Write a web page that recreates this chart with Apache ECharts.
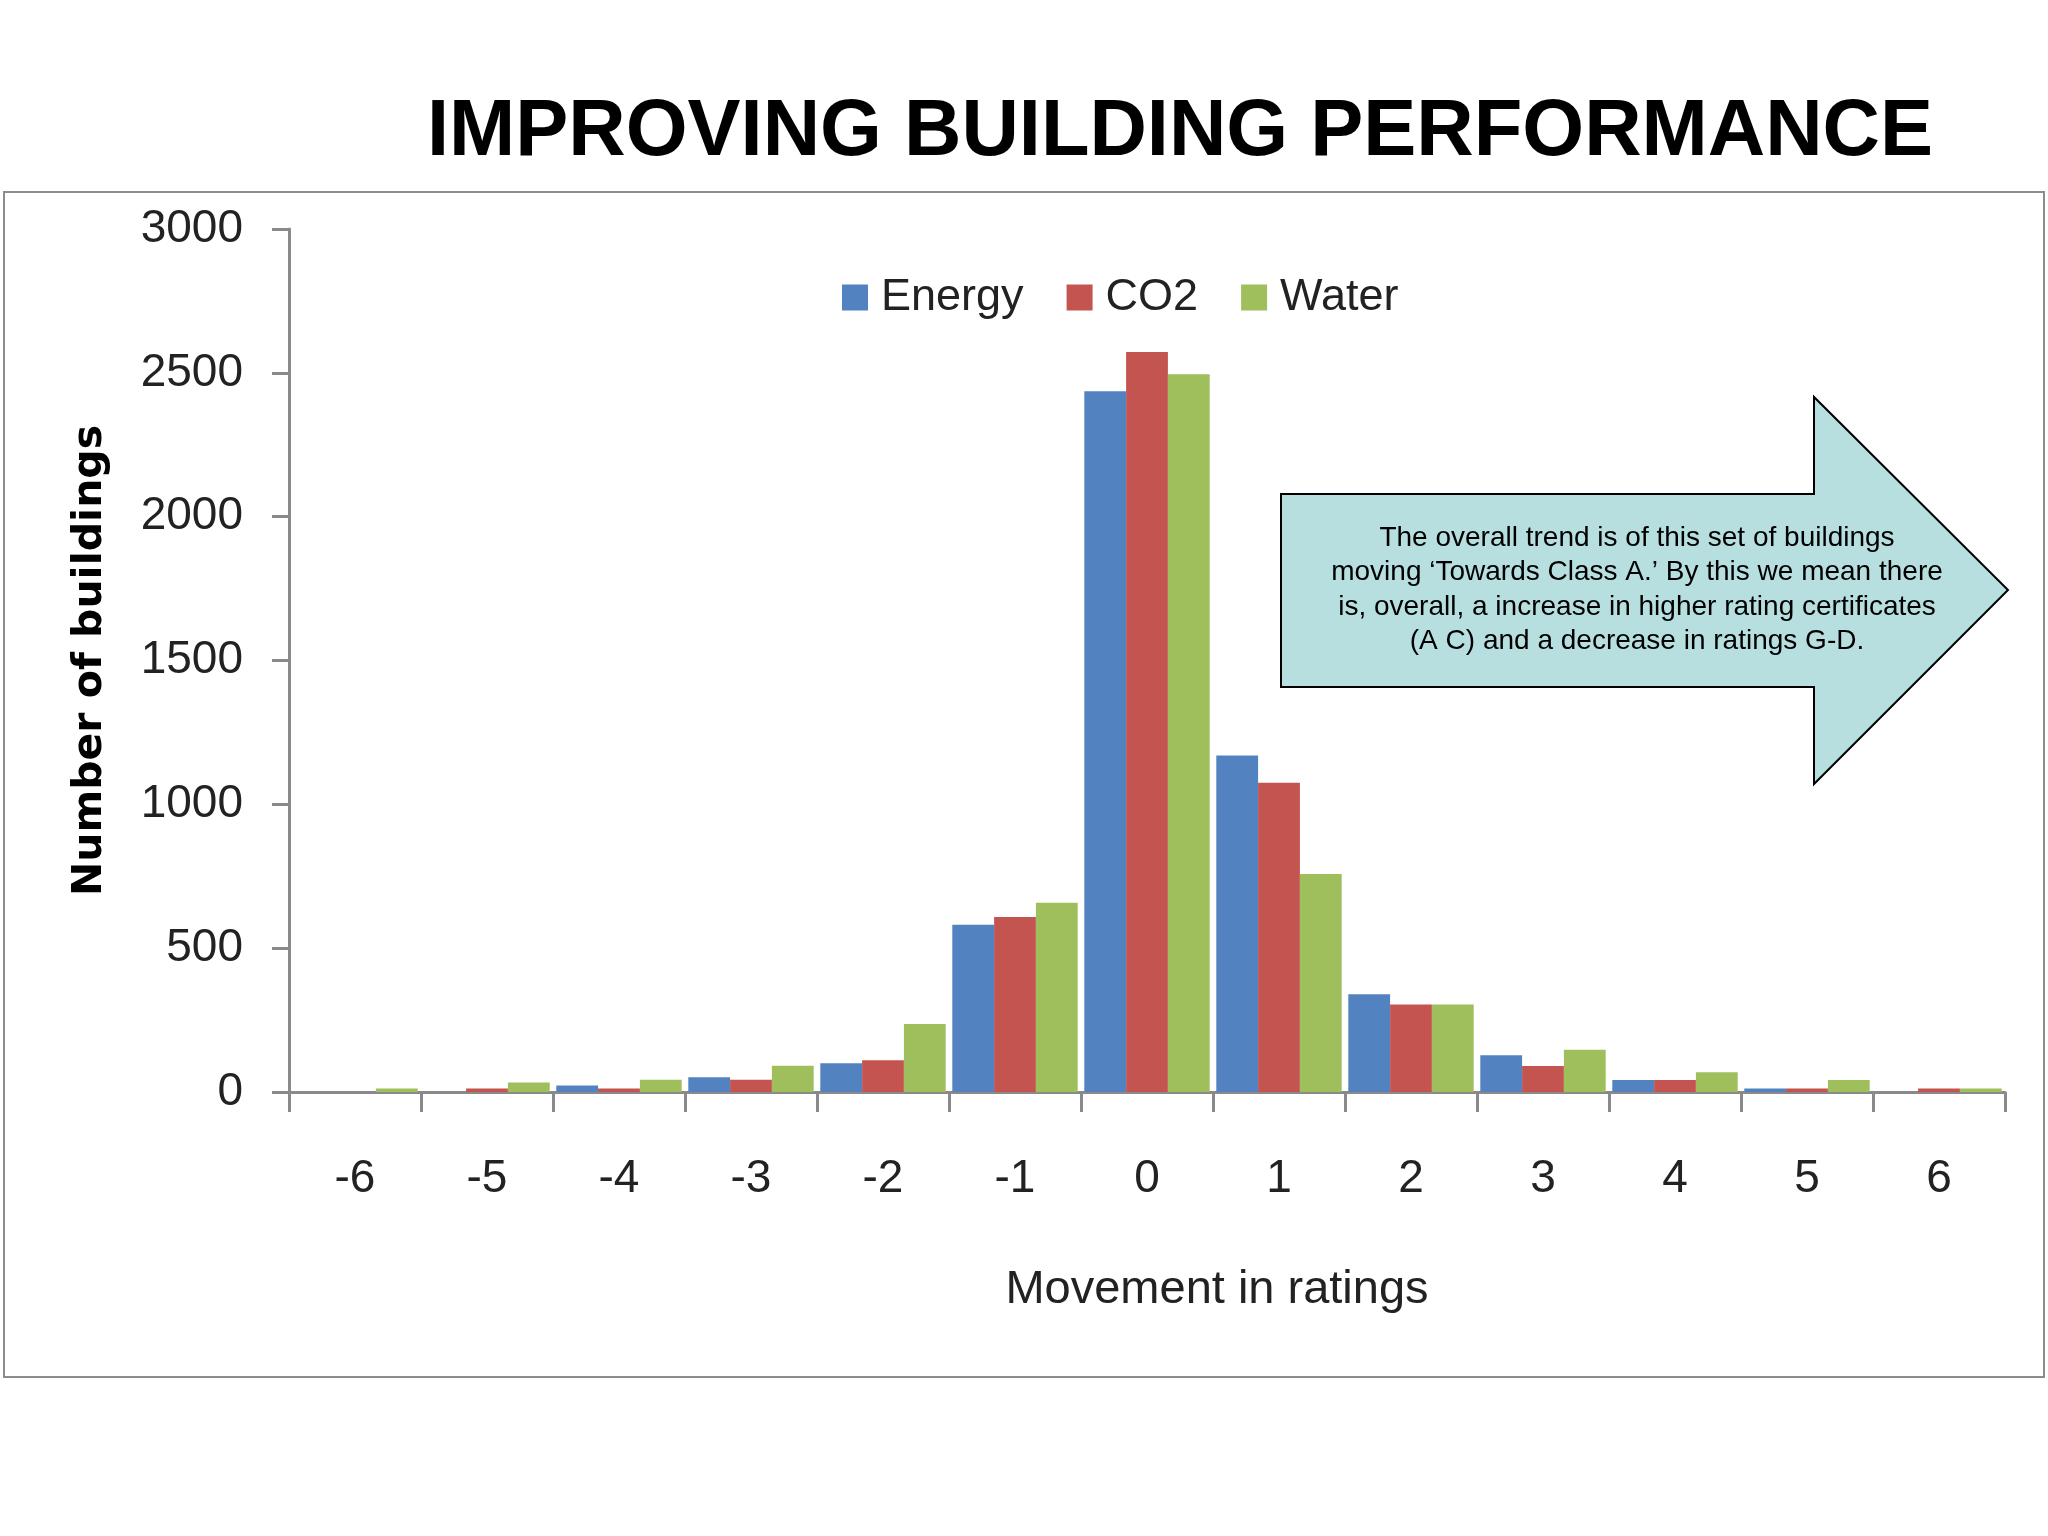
<!DOCTYPE html>
<html>
<head>
<meta charset="utf-8">
<script src="https://cdn.jsdelivr.net/npm/echarts@6/dist/echarts.min.js"></script>
<style>
html,body{margin:0;padding:0;background:#fff;}
#chart{width:2048px;height:1536px;}
</style>
</head>
<body>
<div id="chart"></div>
<script>
const categories = ['-6','-5','-4','-3','-2','-1','0','1','2','3','4','5','6'];
const energy = [0, 0, 23, 51, 100, 581, 2436, 1170, 340, 128, 42, 12, 0];
const co2    = [0, 12, 12, 43, 110, 608, 2572, 1075, 304, 90, 42, 12, 12];
const water  = [12, 33, 43, 91, 236, 658, 2495, 758, 304, 147, 69, 42, 12];
const yTicks = [0, 500, 1000, 1500, 2000, 2500, 3000];

const titleText = 'IMPROVING BUILDING PERFORMANCE';
const calloutLines = [
  'The overall trend is of this set of buildings',
  'moving \u2018Towards Class A.\u2019 By this we mean there',
  'is, overall, a increase in higher rating certificates',
  '(A C) and a decrease in ratings G-D.'
];

const chart = echarts.init(document.getElementById('chart'), null, {renderer:'canvas'});
const tickFont = '"Liberation Sans", Arial, sans-serif';
const axisGray = '#8a8a8a';

const option = {
  backgroundColor: '#ffffff',
  animation: false,
  title: {
    text: titleText,
    left: 1175, top: 88,
    textAlign: 'center',
    textStyle: {fontFamily: '"Liberation Sans", Arial, sans-serif', fontWeight: 'bold', fontSize: 79.5, color: '#000'}
  },
  legend: {
    data: ['Energy', 'CO2', 'Water'],
    left: 837, top: 270,
    icon: 'rect',
    itemWidth: 26, itemHeight: 26, itemGap: 43,
    textStyle: {fontFamily: tickFont, fontSize: 45, color: '#222', padding: [0, 0, 0, 8]}
  },
  grid: {left: 289, right: 43, top: 229, bottom: 444, containLabel: false},
  xAxis: {
    type: 'category',
    data: categories,
    name: 'Movement in ratings',
    nameLocation: 'middle',
    nameGap: 175,
    nameTextStyle: {fontFamily: tickFont, fontSize: 47, color: '#222', padding: [0, 0, 0, 140]},
    axisLine: {show: true, lineStyle: {color: axisGray, width: 3}},
    axisTick: {show: true, length: 20, lineStyle: {color: axisGray, width: 3}},
    axisLabel: {fontFamily: tickFont, fontSize: 46, color: '#222', margin: 64}
  },
  yAxis: {
    type: 'value',
    min: 0, max: 3000, interval: 500,
    name: 'Number of buildings',
    nameLocation: 'middle',
    nameGap: 178,
    nameTextStyle: {fontFamily: '"DejaVu Sans", Verdana, sans-serif', fontWeight: 'bold', fontSize: 41, color: '#000'},
    axisLine: {show: true, lineStyle: {color: axisGray, width: 3}},
    axisTick: {show: true, length: 17, lineStyle: {color: axisGray, width: 3}},
    splitLine: {show: false},
    axisLabel: {fontFamily: tickFont, fontSize: 46, color: '#222', margin: 46,
      formatter: v => yTicks.indexOf(v) >= 0 ? String(v) : ''}
  },
  series: [
    {name: 'Energy', type: 'bar', data: energy, itemStyle: {color: '#5283c0'}, barGap: '0%', barCategoryGap: '5%'},
    {name: 'CO2', type: 'bar', data: co2, itemStyle: {color: '#c3544f'}, barGap: '0%', barCategoryGap: '5%'},
    {name: 'Water', type: 'bar', data: water, itemStyle: {color: '#9fbe5c'}, barGap: '0%', barCategoryGap: '5%'}
  ],
  graphic: [
    {type: 'rect', z: 0, silent: true,
     shape: {x: 4, y: 192, width: 2040, height: 1185},
     style: {fill: 'none', stroke: '#8c8c8c', lineWidth: 2}},
    {type: 'polygon', z: 100, silent: true,
     shape: {points: [[1281, 494], [1814, 494], [1814, 397], [2008, 590], [1814, 784], [1814, 687], [1281, 687]]},
     style: {fill: '#b7dfe0', stroke: '#000', lineWidth: 2}},
    {type: 'text', z: 101, silent: true,
     x: 1637, y: 521,
     style: {text: calloutLines.join('\n'), align: 'center', verticalAlign: 'top',
       font: '28px "Liberation Sans", Arial, sans-serif', fill: '#000', lineHeight: 34.5}}
  ]
};
chart.setOption(option);
</script>
</body>
</html>
